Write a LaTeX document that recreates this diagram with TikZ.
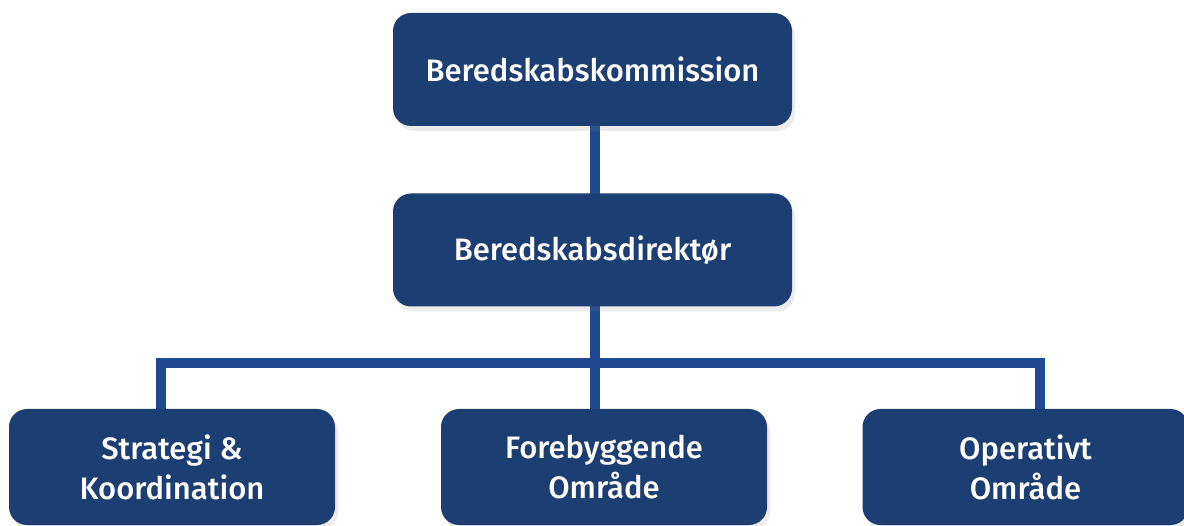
\documentclass[tikz,border=0pt]{standalone}
\usepackage{fontspec}
\setmainfont{Fira Sans}[UprightFont=* Medium]
\usetikzlibrary{shadows}
\definecolor{boxblue}{RGB}{28,62,114}
\definecolor{lineblue}{RGB}{31,74,146}
\tikzset{
  orgbox/.style={draw=none, fill=boxblue, rounded corners=18pt, text=white,
    font=\fontsize{31}{40}\selectfont, align=center, inner sep=0pt,
    drop shadow={opacity=0.15, shadow xshift=3pt, shadow yshift=-5pt}},
  topbox/.style={orgbox, minimum width=399pt, minimum height=113pt},
  lowbox/.style={orgbox, minimum width=326pt, minimum height=116pt},
  conn/.style={draw=lineblue, line width=10pt}
}
\begin{document}
\begin{tikzpicture}[x=1pt,y=-1pt]
\useasboundingbox (0,0) rectangle (1184,526);
\fill[white] (0,0) rectangle (1184,526);
\coordinate (bus) at (595,363);
% connectors (behind boxes)
\draw[conn] (595,60) -- (595,250);
\draw[conn] (595,250) -- (595,470);
\draw[conn] (161,470) |- (bus) -| (1040,470);
% boxes
\node[topbox] (kom) at (592.5,69.5) {Beredskabskommission};
\node[topbox] (dir) at (592.5,250) {Beredskabsdirektør};
\node[lowbox] (strat) at (172,467) {Strategi \&\\Koordination};
\node[lowbox] (fore) at (604,467) {Forebyggende\\Område};
\node[lowbox] (oper) at (1025.5,467) {Operativt\\Område};
\end{tikzpicture}
\end{document}
